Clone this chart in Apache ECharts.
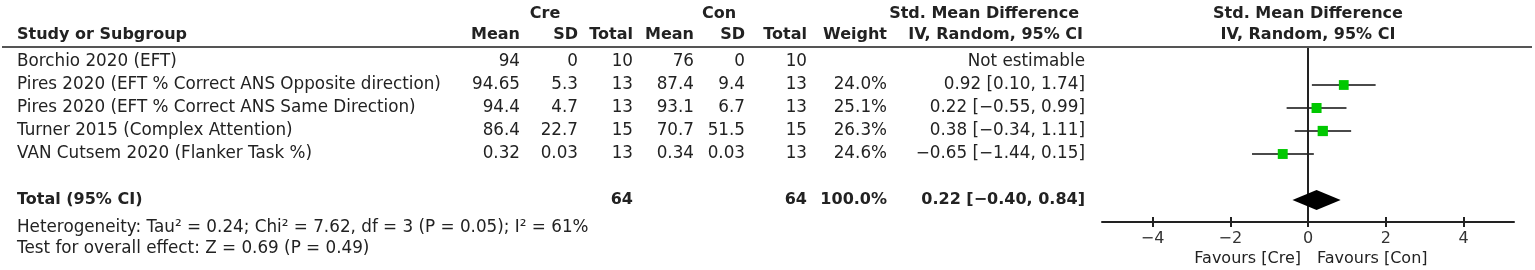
<!DOCTYPE html>
<html>
<head>
<meta charset="utf-8">
<script src="https://cdn.jsdelivr.net/npm/echarts@6/dist/echarts.min.js"></script>
<style>
html,body{margin:0;padding:0;background:#fff;}
#chart{width:1535px;height:270px;}
</style>
</head>
<body>
<div id="chart"></div>
<script>
// ---------- data ----------
const studies = [
  'Borchio 2020 (EFT)',
  'Pires 2020 (EFT % Correct ANS Opposite direction)',
  'Pires 2020 (EFT % Correct ANS Same Direction)',
  'Turner 2015 (Complex Attention)',
  'VAN Cutsem 2020 (Flanker Task %)'
];
const creMean = ['94', '94.65', '94.4', '86.4', '0.32'];
const creSD = ['0', '5.3', '4.7', '22.7', '0.03'];
const creTotal = [10, 13, 13, 15, 13];
const conMean = ['76', '87.4', '93.1', '70.7', '0.34'];
const conSD = ['0', '9.4', '6.7', '51.5', '0.03'];
const conTotal = [10, 13, 13, 15, 13];
const weights = [null, 24.0, 25.1, 26.3, 24.6];
const smd = [null, 0.92, 0.22, 0.38, -0.65];
const ciLow = [null, 0.10, -0.55, -0.34, -1.44];
const ciHigh = [null, 1.74, 0.99, 1.11, 0.15];
const totalCre = 64;
const totalCon = 64;
const totalWeight = 100.0;
const totalSmd = 0.22;
const totalLow = -0.40;
const totalHigh = 0.84;
const heterogeneity = 'Heterogeneity: Tau\u00b2 = 0.24; Chi\u00b2 = 7.62, df = 3 (P = 0.05); I\u00b2 = 61%';
const overallEffect = 'Test for overall effect: Z = 0.69 (P = 0.49)';
const axisTicks = [-4, -2, 0, 2, 4];
const favourLeft = 'Favours [Cre]';
const favourRight = 'Favours [Con]';

// ---------- layout ----------
const FONT = '"DejaVu Sans", sans-serif';
const FS = 16, FS_REG = 16.8;
const ROW_H = 23, ROW0_Y = 62, H = 270;
const col = {name: 17, creMean: 520, creSD: 578, creTotal: 633, conMean: 694, conSD: 745, conTotal: 807, weight: 887, ci: 1085};
const totalRow = 6, hetRow = 7.2, testRow = 8.1, favRow = 8.55, hdr1 = -2.1, hdr2 = -1.2;
const plotLeft = 1102, plotWidth = 412, plotTop = 47, axisY = 222;
const xMin = -5.3, xMax = 5.3;

const fmt = v => (v < 0 ? '\u2212' : '') + Math.abs(v).toFixed(2);
const ciText = (e, l, h) => fmt(e) + ' [' + fmt(l) + ', ' + fmt(h) + ']';

// table cells (text) built from the data arrays
const cells = [];
function cell(x, row, text, align, bold, size) {
  cells.push({x, row, text: String(text), align, bold: !!bold, size: size || (bold ? FS : FS_REG)});
}
cell(545, hdr1, 'Cre', 'center', true);
cell(719, hdr1, 'Con', 'center', true);
cell(1079, hdr1, 'Std. Mean Difference', 'right', true);
cell(1308, hdr1, 'Std. Mean Difference', 'center', true);
cell(col.name, hdr2, 'Study or Subgroup', 'left', true);
cell(col.creMean, hdr2, 'Mean', 'right', true);
cell(col.creSD, hdr2, 'SD', 'right', true);
cell(col.creTotal, hdr2, 'Total', 'right', true);
cell(col.conMean, hdr2, 'Mean', 'right', true);
cell(col.conSD, hdr2, 'SD', 'right', true);
cell(col.conTotal, hdr2, 'Total', 'right', true);
cell(col.weight, hdr2, 'Weight', 'right', true);
cell(1083, hdr2, 'IV, Random, 95% CI', 'right', true);
cell(1308, hdr2, 'IV, Random, 95% CI', 'center', true);
studies.forEach((s, i) => {
  cell(col.name, i, s, 'left');
  cell(col.creMean, i, creMean[i], 'right');
  cell(col.creSD, i, creSD[i], 'right');
  cell(col.creTotal, i, creTotal[i], 'right');
  cell(col.conMean, i, conMean[i], 'right');
  cell(col.conSD, i, conSD[i], 'right');
  cell(col.conTotal, i, conTotal[i], 'right');
  if (weights[i] != null) cell(col.weight, i, weights[i].toFixed(1) + '%', 'right');
  cell(col.ci, i, smd[i] == null ? 'Not estimable' : ciText(smd[i], ciLow[i], ciHigh[i]), 'right');
});
cell(col.name, totalRow, 'Total (95% CI)', 'left', true);
cell(col.creTotal, totalRow, totalCre, 'right', true);
cell(col.conTotal, totalRow, totalCon, 'right', true);
cell(col.weight, totalRow, totalWeight.toFixed(1) + '%', 'right', true);
cell(col.ci, totalRow, ciText(totalSmd, totalLow, totalHigh), 'right', true);
cell(col.name, hetRow, heterogeneity, 'left');
cell(col.name, testRow, overallEffect, 'left');
cell(1301, favRow, favourLeft, 'right', false, FS);
cell(1317, favRow, favourRight, 'left', false, FS);

const studyIdx = smd.map((v, i) => i).filter(i => smd[i] != null);

const chart = echarts.init(document.getElementById('chart'), null, {renderer: 'canvas'});
const yMinTable = -ROW0_Y / ROW_H, yMaxTable = (H - ROW0_Y) / ROW_H;
const yMinPlot = (plotTop - ROW0_Y) / ROW_H, yMaxPlot = (axisY - ROW0_Y) / ROW_H;

chart.setOption({
  animation: false,
  backgroundColor: '#fff',
  textStyle: {fontFamily: FONT},
  grid: [
    {left: 0, top: 0, width: 1535, height: H},
    {left: plotLeft, top: plotTop, width: plotWidth, height: axisY - plotTop}
  ],
  xAxis: [
    {gridIndex: 0, type: 'value', min: 0, max: 1535, show: false},
    {gridIndex: 1, type: 'value', min: xMin, max: xMax, position: 'bottom',
      axisLine: {show: true, onZero: false, lineStyle: {color: '#222', width: 2}},
      axisTick: {show: true, length: 5, customValues: axisTicks, lineStyle: {color: '#222', width: 2}},
      axisLabel: {show: true, customValues: axisTicks, margin: 9, color: '#333', fontSize: FS, fontFamily: FONT,
        formatter: v => (v < 0 ? '\u2212' : '') + Math.abs(v)},
      splitLine: {show: false}},
    {gridIndex: 1, type: 'value', min: xMin, max: xMax, position: 'bottom',
      axisLine: {show: false, onZero: false},
      axisTick: {show: true, inside: true, length: 5, customValues: axisTicks, lineStyle: {color: '#222', width: 2}},
      axisLabel: {show: false}, splitLine: {show: false}}
  ],
  yAxis: [
    {gridIndex: 0, type: 'value', inverse: true, min: yMinTable, max: yMaxTable, show: false},
    {gridIndex: 1, type: 'value', inverse: true, min: yMinPlot, max: yMaxPlot, show: false}
  ],
  graphic: [
    {type: 'line', shape: {x1: 2, y1: 47, x2: 1532, y2: 47}, style: {stroke: '#555', lineWidth: 2}, z: 10}
  ],
  series: [
    {
      type: 'custom', xAxisIndex: 0, yAxisIndex: 0, silent: true,
      data: cells.map(c => [c.x, c.row]),
      renderItem: (params, api) => {
        const c = cells[params.dataIndex];
        const p = api.coord([c.x, c.row]);
        return {type: 'text', x: p[0], y: p[1], style: {
          text: c.text, fill: '#222', font: (c.bold ? 'bold ' : '') + c.size + 'px ' + FONT,
          align: c.align, verticalAlign: 'middle', textAlign: c.align, textVerticalAlign: 'middle'}};
      }
    },
    {
      type: 'custom', xAxisIndex: 1, yAxisIndex: 1, silent: true, clip: false,
      data: studyIdx.map(i => [ciLow[i], ciHigh[i], i]),
      encode: {x: [0, 1], y: 2},
      renderItem: (params, api) => {
        const a = api.coord([api.value(0), api.value(2)]);
        const b = api.coord([api.value(1), api.value(2)]);
        return {type: 'line', shape: {x1: a[0], y1: a[1], x2: b[0], y2: b[1]}, style: {stroke: '#4a4a4a', lineWidth: 2}};
      },
      markLine: {silent: true, symbol: 'none', label: {show: false},
        lineStyle: {color: '#222', width: 2, type: 'solid'}, data: [{xAxis: 0}]}
    },
    {
      type: 'scatter', xAxisIndex: 1, yAxisIndex: 1, silent: true, symbol: 'rect',
      data: studyIdx.map(i => [smd[i], i, weights[i]]),
      symbolSize: v => 10 * Math.sqrt(v[2] / 25),
      itemStyle: {color: '#00c800', opacity: 1}, z: 5
    },
    {
      type: 'custom', xAxisIndex: 1, yAxisIndex: 1, silent: true, z: 6,
      data: [[totalLow, totalSmd, totalHigh, totalRow]],
      encode: {x: [0, 1, 2], y: 3},
      renderItem: (params, api) => {
        const r = api.value(3), hh = 10 / ROW_H;
        const pts = [
          api.coord([api.value(0), r]),
          api.coord([api.value(1), r - hh]),
          api.coord([api.value(2), r]),
          api.coord([api.value(1), r + hh])
        ];
        return {type: 'polygon', shape: {points: pts}, style: {fill: '#000'}};
      }
    }
  ]
});
</script>
</body>
</html>
